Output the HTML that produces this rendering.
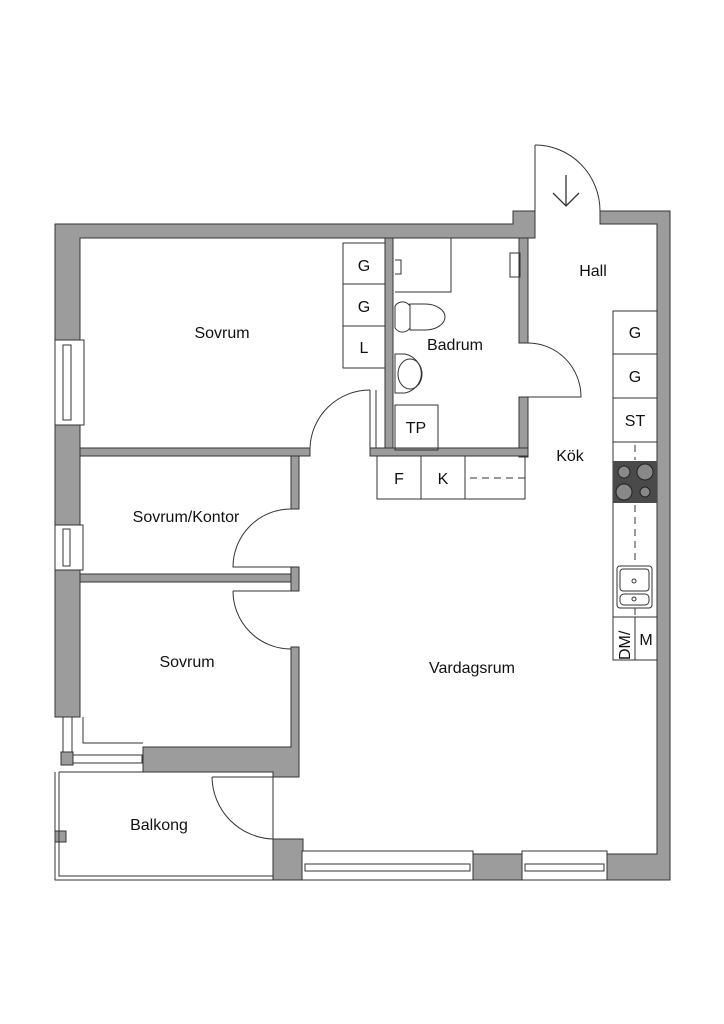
<!DOCTYPE html>
<html><head><meta charset="utf-8"><style>
html,body{margin:0;padding:0;background:#fff;}
svg{display:block;}
text{font-family:"Liberation Sans",sans-serif;fill:#111;}
</style></head><body>
<svg width="724" height="1024" viewBox="0 0 724 1024" xmlns="http://www.w3.org/2000/svg">
<g fill="#9c9c9c" stroke="#333" stroke-width="1">
<!-- top wall -->
<path d="M55 224 H513 V211 H535 V238 H80 V340 H55 Z"/>
<!-- hall top right and right wall -->
<path d="M600 211 H670 V880 H606 V854 H657 V224 H600 Z"/>
<!-- left wall segments -->
<rect x="55" y="425" width="25" height="100"/>
<rect x="55" y="570" width="25" height="147"/>
<!-- sovrum/badrum wall -->
<rect x="385" y="238" width="8" height="218"/>
<!-- badrum right wall -->
<rect x="519" y="238" width="9" height="105"/>
<rect x="519" y="397" width="9" height="60"/>
<!-- sovrum bottom wall -->
<rect x="80" y="448" width="230" height="8"/>
<rect x="370" y="448" width="158" height="8"/>
<!-- sovrum/kontor vertical -->
<rect x="291" y="456" width="8" height="53"/>
<rect x="80" y="574" width="219" height="8"/>
<rect x="291" y="567" width="8" height="24"/>
<rect x="291" y="647" width="8" height="130"/>
<!-- lower thick wall -->
<path d="M143 747 H291 V647 H299 V777 H273 V772 H143 Z"/>
<!-- balcony door wall block -->
<rect x="273" y="839" width="30" height="41"/>
<rect x="473" y="854" width="49" height="26"/>
<rect x="55" y="831" width="11" height="11"/>
<rect x="61" y="752" width="12" height="13"/>
</g>
<g fill="none" stroke="#333" stroke-width="1">
<!-- windows left -->
<rect x="55" y="340" width="29" height="85" fill="#fff"/>
<rect x="63" y="345" width="8" height="75"/>
<rect x="55" y="525" width="28" height="45" fill="#fff"/>
<rect x="63" y="529" width="7" height="37"/>
<rect x="63" y="717" width="9" height="35"/>
<rect x="73" y="755" width="69" height="8"/>
<path d="M83 717 V743 H143"/>
<!-- balcony -->
<path d="M55 772 V880 H273"/><path d="M59 772 V876 H273"/>
<path d="M59 772 H143"/><path d="M273 772 V839"/>
<path d="M212 777 A63 63 0 0 0 273 839"/><path d="M212 777 H273"/>
<!-- bottom windows -->
<rect x="302" y="851" width="171" height="29" fill="#fff"/>
<rect x="305" y="864" width="165" height="7"/>
<rect x="522" y="851" width="85" height="29" fill="#fff"/>
<rect x="525" y="864" width="79" height="7"/>
<!-- entrance -->
<path d="M535 145 V211"/><path d="M535 145 A65 66 0 0 1 600 211"/>
<path d="M566 175 V205 M553 193 L566 206 L579 193" stroke-width="1.3"/>
<!-- sovrum door -->
<path d="M370 390 A60 60 0 0 0 310 448"/>
<path d="M370 390 V448 M376 390 V448"/>
<!-- badrum door -->
<path d="M528 343 A53 54 0 0 1 581 397 H528"/>
<!-- kontor door -->
<path d="M291 509 A58 58 0 0 0 233 567 H291"/>
<path d="M233 591 H291"/><path d="M233 591 A58 58 0 0 0 291 649"/>
<!-- wardrobes -->
<rect x="343" y="243" width="42" height="41"/>
<rect x="343" y="284" width="42" height="42"/>
<rect x="343" y="326" width="42" height="42"/>
<!-- bath -->
<path d="M451 238 V292 H395"/>
<rect x="510" y="253" width="10" height="24"/>
<path d="M410 304 H425 A20 13 0 0 1 425 330 H410 Z"/><path d="M395 306 A10 12 0 0 1 410 306 V328 A10 12 0 0 1 395 328 Z"/>
<path d="M395 354 H405 A21 20 0 0 1 405 393 H395 Z"/><ellipse cx="410" cy="374" rx="12" ry="15"/>
<rect x="395" y="405" width="43" height="45"/>
<path d="M395 260 h6 v14 h-6"/>
<!-- F K -->
<rect x="377" y="456" width="148" height="43"/>
<path d="M421 456 V499 M465 456 V499"/>
<path d="M470 478 H525" stroke-dasharray="7 5"/>
<!-- kitchen -->
<rect x="613" y="311" width="44" height="349"/>
<path d="M613 354 H657 M613 398 H657 M613 442 H657 M613 617 H657 M635 617 V660"/>
<path d="M635 445 V460 M635 505 V565 M635 608 V617" stroke-dasharray="7 5"/>
<rect x="617" y="566" width="35" height="42" rx="3"/>
<rect x="620" y="569" width="29" height="22" rx="3"/>
<rect x="620" y="594" width="29" height="11" rx="4"/>
<circle cx="634" cy="581" r="2"/><circle cx="634" cy="599" r="2"/>
</g>
<rect x="613" y="461" width="44" height="42" fill="#4a4a4a"/>
<g fill="#888" stroke="#222">
<circle cx="624" cy="472" r="6"/><circle cx="645" cy="472" r="8"/>
<circle cx="624" cy="492" r="8"/><circle cx="645" cy="492" r="5"/>
</g>
<g font-size="16" text-anchor="middle">
<text x="222" y="338">Sovrum</text>
<text x="455" y="350">Badrum</text>
<text x="593" y="276">Hall</text>
<text x="570" y="461">Kök</text>
<text x="186" y="522">Sovrum/Kontor</text>
<text x="187" y="667">Sovrum</text>
<text x="472" y="673">Vardagsrum</text>
<text x="159" y="830">Balkong</text>
<text x="364" y="271">G</text>
<text x="364" y="312">G</text>
<text x="364" y="353">L</text>
<text x="416" y="433">TP</text>
<text x="399" y="484">F</text>
<text x="443" y="484">K</text>
<text x="635" y="338">G</text>
<text x="635" y="382">G</text>
<text x="635" y="426">ST</text>
<text x="646" y="645">M</text>
<text transform="translate(630,660) rotate(-90)" text-anchor="start">DM/</text>
</g>
</svg>
</body></html>
